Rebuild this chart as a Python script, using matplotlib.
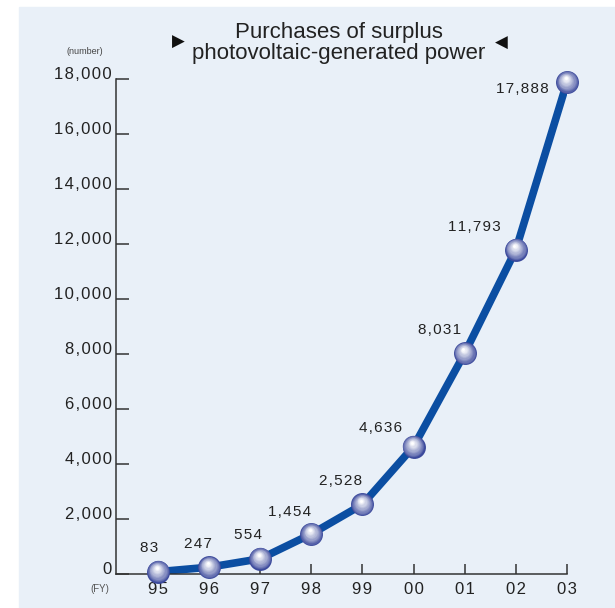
import numpy as np
import matplotlib.pyplot as plt
from matplotlib.patches import Rectangle
from matplotlib.transforms import offset_copy
from matplotlib.colors import to_rgb

# Purchases of surplus photovoltaic-generated power (number of contracts)
years = ["95", "96", "97", "98", "99", "00", "01", "02", "03"]
purchases = [83, 247, 554, 1454, 2528, 4636, 8031, 11793, 17888]
yticks = [0, 2000, 4000, 6000, 8000, 10000, 12000, 14000, 16000, 18000]

# label offsets (points) from each marker
label_off = [(-6, 17), (-8, 17), (-9, 17), (-16, 16), (-16, 17),
             (-24, 13), (-18, 17), (-30, 16), (-13, -5)]

plt.rcParams['font.family'] = ['Liberation Sans', 'DejaVu Sans']
txt = "#222222"
bg = "#e9f0f8"
line_c = "#0b4ea2"


def spaced(s, gap="\u200a"):
    # loose tracking for the digits
    return gap.join(s)


fig = plt.figure(figsize=(6.15, 6.08), dpi=100)
fig.patches.append(Rectangle((19 / 615, 0), 1 - 19 / 615, 1 - 7 / 608,
                             transform=fig.transFigure, color=bg, zorder=-10))

ax = fig.add_axes((116 / 615, 34 / 608, 451 / 615, 495 / 608))
ax.set_facecolor("none")
ax.set_zorder(5)
x = np.arange(len(years))

ax.plot(x, purchases, color=line_c, linewidth=5.5, solid_capstyle="round",
        zorder=2)

# shaded spheres for the markers
base = np.array(to_rgb("#3c4a9c"))
white = np.array([1.0, 1.0, 1.0])
nlay = 14
for i in range(nlay):
    t = i / (nlay - 1)
    size = 16.5 * (1 - 0.88 * t)
    col = base + (white - base) * (t ** 0.8)
    tr = offset_copy(ax.transData, fig=fig, x=-1.0 * t, y=2.8 * t,
                     units="points")
    ax.plot(x, purchases, "o", markersize=size, color=col,
            markeredgewidth=0, transform=tr, zorder=3 + i, clip_on=False)

for xi, v, (dx, dy) in zip(x, purchases, label_off):
    ha = "right" if xi == len(x) - 1 else "center"
    ax.annotate(spaced(f"{v:,}"), (xi, v), xytext=(dx, dy),
                textcoords="offset points", ha=ha, va="center",
                fontsize=11, color=txt, zorder=30)

ax.set_xlim(-0.82, len(x) - 1)
ax.set_ylim(0, 18000)
ax.set_xticks(x)
ax.set_xticklabels([spaced(y) for y in years])
ax.set_yticks(yticks)
ax.set_yticklabels([spaced(f"{t:,}") for t in yticks], va="baseline")

for s in ["top", "right"]:
    ax.spines[s].set_visible(False)
for s in ["left", "bottom"]:
    ax.spines[s].set_color("#333333")
    ax.spines[s].set_linewidth(1.1)

ax.tick_params(axis="y", direction="in", length=9, width=1.1, color="#333333",
               labelsize=12, labelcolor=txt, pad=3)
ax.tick_params(axis="x", direction="in", length=7, width=1.1, color="#333333",
               labelsize=12, labelcolor=txt, pad=6)

fig.text(85 / 615, 1 - 51 / 608, "(number)", fontsize=6.5, color="#444444",
         ha="center", va="center")
fig.text(100 / 615, 1 - 589 / 608, "(FY)", fontsize=7, color="#555555",
         ha="center", va="center")

fig.text(339 / 615, 1 - 43 / 608,
         "Purchases of surplus\nphotovoltaic-generated power",
         fontsize=16, color=txt, ha="center", va="center", linespacing=0.95)
fig.text(178 / 615, 1 - 42 / 608, "\u25B6", fontsize=12, color="#111111",
         ha="center", va="center", family="DejaVu Sans")
fig.text(501 / 615, 1 - 43 / 608, "\u25C0", fontsize=12, color="#111111",
         ha="center", va="center", family="DejaVu Sans")

fig.savefig("out.png", dpi=100)
